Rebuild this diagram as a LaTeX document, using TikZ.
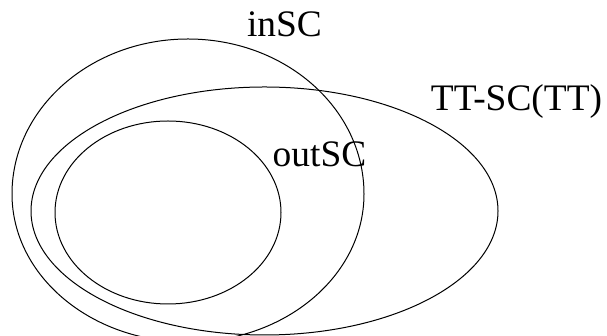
\documentclass[tikz,border=0pt]{standalone}
\usepackage{fontspec}
\setmainfont{Liberation Serif}
\usetikzlibrary{positioning}

\tikzset{
	setname/.style={anchor=base, inner sep=0pt, font=\fontsize{37.4}{44}\selectfont}
}

\begin{document}
\begin{tikzpicture}[x=1pt, y=1pt, line width=1pt]
				\useasboundingbox (0,0) rectangle (607,336);
				\clip (0,0) rectangle (607,336);
				
				\coordinate (IN) at (188,142);
				\coordinate (TT) at (264.5,125);
				\coordinate (OUT) at (168,123.5);
				
				% inSC: a little flatter below than above
				\draw ([xshift=176pt]IN) arc[start angle=0, end angle=180, x radius=176pt, y radius=155pt]
					arc[start angle=180, end angle=360, x radius=176pt, y radius=148pt];
				
				\draw (TT) ellipse[x radius=233.5pt, y radius=124pt];
				
				\draw (OUT) ellipse[x radius=113pt, y radius=91.5pt];
				
				\node[setname] (inSC) at (284.5,299) {inSC};
				\node[setname] (TTSC) at (516.5,225.5) {TT-SC(TT)};
				\node[setname] (outSC) at (319.5,169) {outSC};
			\end{tikzpicture}
\end{document}
